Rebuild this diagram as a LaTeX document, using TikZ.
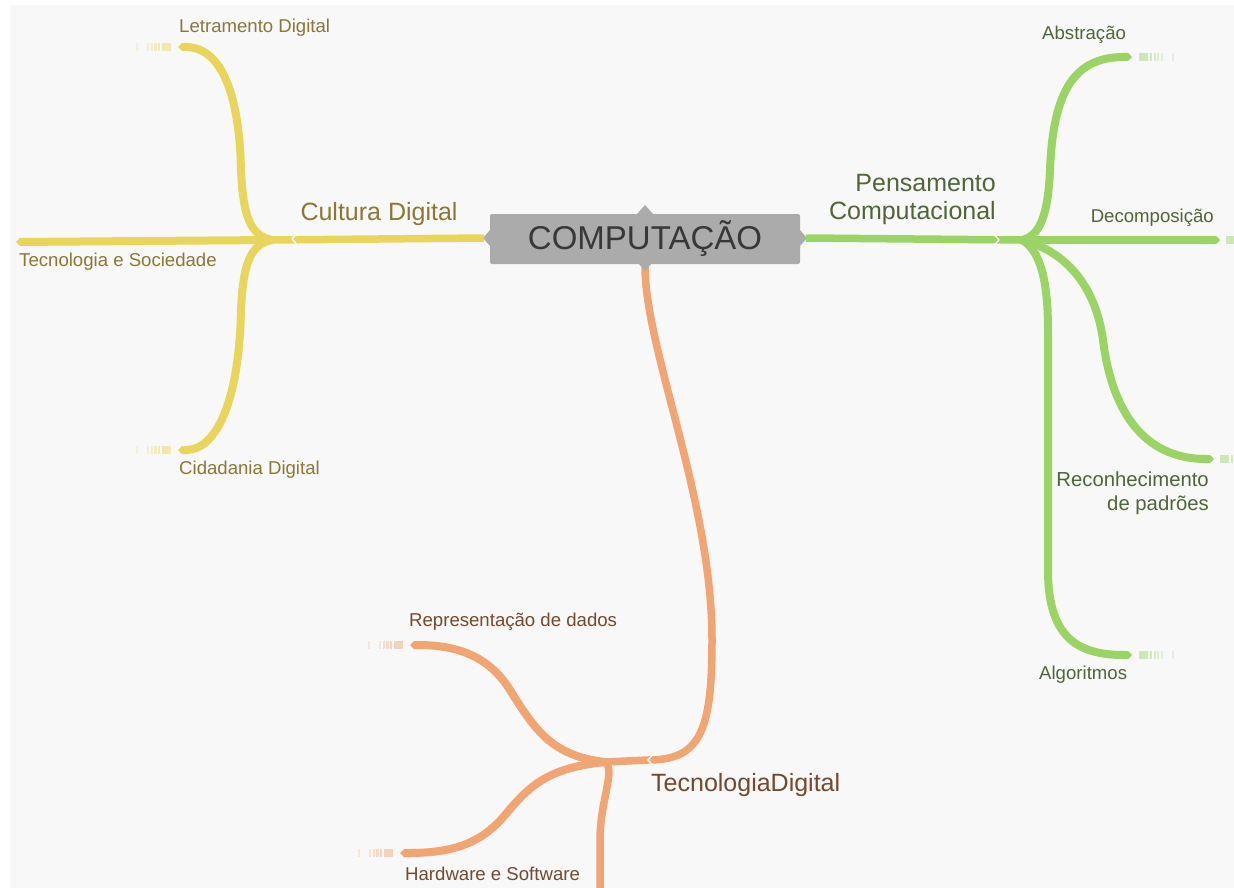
\documentclass[tikz,border=0pt]{standalone}
\usepackage{fontspec}
\setmainfont{Liberation Sans}
\usetikzlibrary{arrows.meta}

\definecolor{bgpaper}{HTML}{F8F8F8}
\definecolor{hubgray}{HTML}{ABABAB}
\definecolor{hubtext}{HTML}{383838}
\definecolor{cultyel}{HTML}{E9D55C}
\definecolor{cultxt}{HTML}{8A7834}
\definecolor{pensgrn}{HTML}{9AD464}
\definecolor{pentxt}{HTML}{4E663A}
\definecolor{tecorg}{HTML}{F1A572}
\definecolor{tectxt}{HTML}{74492F}

% striped fading tail after a leaf tip: x, y, direction (+1/-1), colour
\newcommand\fadetail[4]{%
  \foreach \o/\w/\a in {0/9/0.45, 11/2.2/0.42, 14.5/2.2/0.36, 18/2/0.3, 22/1.6/0.24, 33/1.6/0.2}{%
    \fill[#4, opacity=\a] ({#1+#3*\o},{#2-3.8}) rectangle ({#1+#3*(\o+\w)},{#2+3.8});
  }}
% white chevron separating two pieces of a branch
\newcommand\notch[3]{% x, y, direction
  \draw[white, line width=1.3] ({#1+#3*4.5},{#2-5}) -- (#1,#2) -- ({#1+#3*4.5},{#2+5});}

\tikzset{
  branch/.style={line width=8, line cap=butt, -{Triangle Cap[]}},
  trunk/.style={line width=7.5, line cap=butt},
  bigtxt/.style={inner sep=0, font=\fontsize{25}{28}\selectfont},
  leaftxt/.style={inner sep=0, font=\fontsize{18.6}{22}\selectfont},
}

\begin{document}
\begin{tikzpicture}[x=1pt, y=-1pt]
\useasboundingbox (0,0) rectangle (1234,888);
\fill[white] (0,0) rectangle (1234,888);
\fill[bgpaper] (10,5) rectangle (1234,888);

% ---- central node ----
\coordinate (hubW) at (484,238);
\coordinate (hubE) at (806,238);
\coordinate (hubS) at (645,266);
\draw[trunk, tecorg] (hubS) .. controls (645,350) and (712,500) .. (712,640);
\fill[hubgray, rounded corners=2] (490,214) rectangle (800,264);
\fill[hubgray] (637,214) -- (645,205) -- (653,214) -- cycle;
\fill[hubgray] (490,230) -- (483,238) -- (490,246) -- cycle;
\fill[hubgray] (800,230) -- (807,238) -- (800,246) -- cycle;
\fill[hubgray] (638,263) -- (645,271) -- (652,263) -- cycle;
\node[inner sep=0, text=hubtext, font=\fontsize{33}{36}\selectfont] (hub) at (645,239) {COMPUTAÇÃO};

% ---- Cultura Digital (yellow) ----
\coordinate (yJ) at (272,240);
\coordinate (yLet) at (178,47);
\coordinate (ySoc) at (16,242);
\coordinate (yCid) at (178,450);
\draw[trunk, cultyel] (hubW) -- (yJ);
\draw[branch, cultyel] (yJ) .. controls (250,236) and (243,215) .. (241,170)
  .. controls (239,80) and (215,47) .. (yLet);
\draw[branch, cultyel] (yJ) .. controls (250,244) and (243,265) .. (241,310)
  .. controls (239,405) and (215,450) .. (yCid);
\draw[branch, cultyel] (yJ) -- (ySoc);
\notch{292}{239}{1}
\fadetail{171}{47}{-1}{cultyel}
\fadetail{171}{450}{-1}{cultyel}
\node[bigtxt, text=cultxt] (cult) at (379,214) {Cultura Digital};
\node[leaftxt, text=cultxt, anchor=west] (letr) at (179,28) {Letramento Digital};
\node[leaftxt, text=cultxt, anchor=west] (soc) at (19,262) {Tecnologia e Sociedade};
\node[leaftxt, text=cultxt, anchor=west] (cid) at (179,470) {Cidadania Digital};

% ---- Pensamento Computacional (green) ----
\coordinate (gJ) at (1022,240);
\coordinate (gAbs) at (1132,57);
\coordinate (gDec) at (1220,240);
\coordinate (gRec) at (1214,459);
\coordinate (gAlg) at (1132,655);
\draw[trunk, pensgrn] (hubE) -- (gJ);
\draw[branch, pensgrn] (gJ) .. controls (1040,236) and (1048,215) .. (1050,170)
  .. controls (1053,90) and (1075,57) .. (gAbs);
\draw[branch, pensgrn] (gJ) -- (gDec);
\draw[branch, pensgrn] (gJ) .. controls (1062,250) and (1095,282) .. (1103,340)
  .. controls (1113,420) and (1150,459) .. (gRec);
\draw[branch, pensgrn] (gJ) .. controls (1040,250) and (1048,280) .. (1048,330)
  -- (1048,570) .. controls (1048,635) and (1075,655) .. (gAlg);
\notch{999}{240}{-1}
\fadetail{1139}{57}{1}{pensgrn}
\fadetail{1226}{240}{1}{pensgrn}
\fadetail{1220}{459}{1}{pensgrn}
\fadetail{1139}{655}{1}{pensgrn}
\node[bigtxt, text=pentxt, anchor=east, align=right] (pens) at (996,199) {Pensamento\\Computacional};
\node[leaftxt, text=pentxt, anchor=west] (abs) at (1042,35) {Abstração};
\node[leaftxt, text=pentxt, anchor=east] (dec) at (1214,218) {Decomposição};
\node[inner sep=0, font=\fontsize{20.3}{24}\selectfont, text=pentxt, anchor=east, align=right] (rec) at (1209,493) {Reconhecimento\\de padrões};
\node[leaftxt, text=pentxt, anchor=west] (alg) at (1039,675) {Algoritmos};

% ---- Tecnologia Digital (orange) ----
\coordinate (oBend) at (712,640);
\coordinate (oK) at (648,760);
\coordinate (oJ) at (605,762);
\coordinate (oRep) at (410,645);
\coordinate (oHw) at (400,853);
\coordinate (oDown) at (600,895);
\draw[trunk, tecorg] (oBend) .. controls (712,732) and (700,760) .. (oK) -- (oJ);
\draw[branch, tecorg] (oJ) .. controls (552,756) and (535,730) .. (510,690)
  .. controls (490,658) and (460,645) .. (oRep);
\draw[branch, tecorg] (oJ) .. controls (548,768) and (530,785) .. (505,815)
  .. controls (480,845) and (450,853) .. (oHw);
\draw[trunk, tecorg] (oJ) .. controls (616,770) and (600,800) .. (600,840) -- (oDown);
\notch{648}{760}{1}
\fadetail{403}{645}{-1}{tecorg}
\fadetail{393}{853}{-1}{tecorg}
\node[bigtxt, text=tectxt, anchor=west] (tec) at (651,785) {TecnologiaDigital};
\node[leaftxt, text=tectxt, anchor=west] (rep) at (409,622) {Representação de dados};
\node[leaftxt, text=tectxt, anchor=west] (hw) at (405,874) {Hardware e Software};
\end{tikzpicture}
\end{document}
